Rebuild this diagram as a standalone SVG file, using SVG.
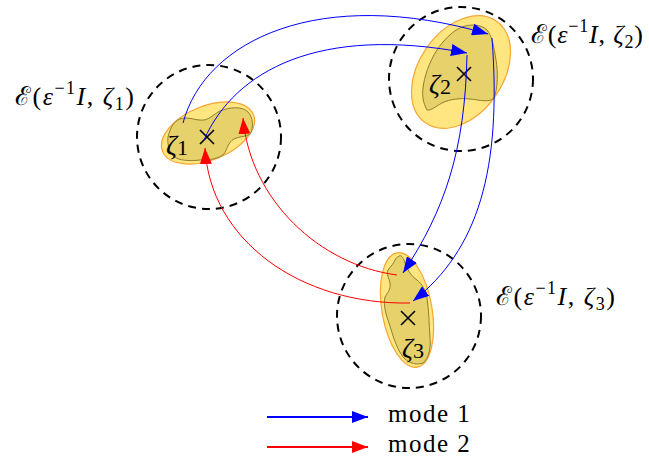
<svg xmlns="http://www.w3.org/2000/svg" width="649" height="460" viewBox="0 0 649 460">
<defs>
<style>
.circ{fill:none;stroke:#000;stroke-width:2;stroke-dasharray:8 6}
.outer{fill:#ffe680;stroke:#f7a431;stroke-width:1.2}
.inner{fill:#e6d16b;stroke:#8f7f2c;stroke-width:1}
.cross{stroke:#000;stroke-width:1.6}
.blue{fill:none;stroke:#0000ff;stroke-width:1}
.red{fill:none;stroke:#ff0000;stroke-width:1}
.lblue{fill:none;stroke:#0000ff;stroke-width:2}
.lred{fill:none;stroke:#ff0000;stroke-width:2}
.lbl{font-family:"Liberation Serif","DejaVu Serif",serif;font-size:26px;letter-spacing:1.5px;fill:#000}
.zeta{font-family:"Liberation Serif","DejaVu Serif",serif;font-size:27px;fill:#000}
.leg{font-family:"Liberation Serif","DejaVu Serif",serif;font-size:25px;letter-spacing:1.5px;fill:#000}
</style>
<marker id="ab" viewBox="0 0 16 12" refX="16" refY="6" markerWidth="16" markerHeight="12" markerUnits="userSpaceOnUse" orient="auto"><path d="M0,0 L16,6 L0,12 Z" fill="#0000ff"/></marker>
<marker id="ar" viewBox="0 0 16 12" refX="16" refY="6" markerWidth="16" markerHeight="12" markerUnits="userSpaceOnUse" orient="auto"><path d="M0,0 L16,6 L0,12 Z" fill="#ff0000"/></marker>
</defs>

<g id="node1">
<circle class="circ" cx="209" cy="137" r="72"/>
<ellipse class="outer" cx="208" cy="133" rx="49" ry="27" transform="rotate(-22 208 133)"/>
<path class="inner" d="M168,137 C170,128 174,121 180,119 C188,116 196,121 204,120 C210,119 214,114 220,111 C230,107 242,106 248,112 C253,117 254,128 250,134 C246,137 240,136 234,139 C228,142 227,150 224,154 C218,159 210,160 200,160 C192,161 183,161 176,158 C170,155 167,145 168,137 Z"/>
<text class="zeta" x="166" y="154" font-style="italic">ζ<tspan font-style="normal" font-size="22" dy="1">1</tspan></text>
<path class="cross" d="M200,130 L214,144 M214,130 L200,144"/>
<text class="lbl" x="15" y="105">ℰ(<tspan font-style="italic">ε</tspan><tspan font-size="18" dy="-11">−1</tspan><tspan font-style="italic" dy="11">I</tspan>, <tspan font-style="italic">ζ</tspan><tspan font-size="18" dy="5">1</tspan><tspan dy="-5">)</tspan></text>
</g>

<g id="node2">
<circle class="circ" cx="461" cy="79" r="72"/>
<ellipse class="outer" cx="461" cy="72" rx="62" ry="42" transform="rotate(-55 461 72)"/>
<path class="inner" d="M427,110 C423,103 422,95 423,88 C424,78 429,62 437,50 C443,41 452,31 462,27 C470,24 481,24 487,30 C492,36 494,47 496,60 C498,72 498,88 494,98 C489,103 480,100 470,99 C460,98 450,99 442,103 C436,106 431,111 427,110 Z"/>
<text class="zeta" x="429" y="93" font-style="italic">ζ<tspan font-style="normal" font-size="22" dy="1">2</tspan></text>
<path class="cross" d="M457,67 L471,81 M471,67 L457,81"/>
<text class="lbl" x="531" y="43" style="letter-spacing:0.8px">ℰ(<tspan font-style="italic">ε</tspan><tspan font-size="18" dy="-11">−1</tspan><tspan font-style="italic" dy="11">I</tspan>, <tspan font-style="italic">ζ</tspan><tspan font-size="18" dy="5">2</tspan><tspan dy="-5">)</tspan></text>
</g>

<g id="node3">
<circle class="circ" cx="409" cy="316" r="72"/>
<ellipse class="outer" cx="407" cy="310" rx="25" ry="58" transform="rotate(-10 407 310)"/>
<path class="inner" d="M398,257 C400,254 403,256 405,263 C407,269 411,276 417,280 C422,284 426,290 427,298 C429,310 429,325 430,337 C431,348 429,358 423,363 C417,365 410,364 404,358 C398,351 394,340 390,326 C386,315 383,305 385,297 C387,293 391,290 390,283 C389,278 386,274 388,270 C391,266 394,263 395,260 C396,258 397,257 398,257 Z"/>
<text class="zeta" x="402" y="357" font-style="italic">ζ<tspan font-style="normal" font-size="22" dy="1">3</tspan></text>
<path class="cross" d="M401,311 L415,325 M415,311 L401,325"/>
<text class="lbl" x="496" y="305">ℰ(<tspan font-style="italic">ε</tspan><tspan font-size="18" dy="-11">−1</tspan><tspan font-style="italic" dy="11">I</tspan>, <tspan font-style="italic">ζ</tspan><tspan font-size="18" dy="5">3</tspan><tspan dy="-5">)</tspan></text>
</g>

<g id="connectors">
<path class="blue" d="M183,123 C205,40 320,-15 488,34" marker-end="url(#ab)"/>
<path class="blue" d="M204,140 C235,70 320,25 467,53" marker-end="url(#ab)"/>
<path class="blue" d="M492,38 C502,170 478,250 413,301" marker-end="url(#ab)"/>
<path class="blue" d="M467,55 C465,150 445,210 403,273" marker-end="url(#ab)"/>
<path class="red" d="M397,275 C320,265 250,200 243,118" marker-end="url(#ar)"/>
<path class="red" d="M410,303 C300,305 210,240 205,148" marker-end="url(#ar)"/>
</g>

<g id="legend">
<line class="lblue" x1="267" y1="417" x2="368" y2="417" marker-end="url(#ab)"/>
<line class="lred" x1="267" y1="447" x2="368" y2="447" marker-end="url(#ar)"/>
<text class="leg" x="388" y="422">mode 1</text>
<text class="leg" x="388" y="452">mode 2</text>
</g>
</svg>
